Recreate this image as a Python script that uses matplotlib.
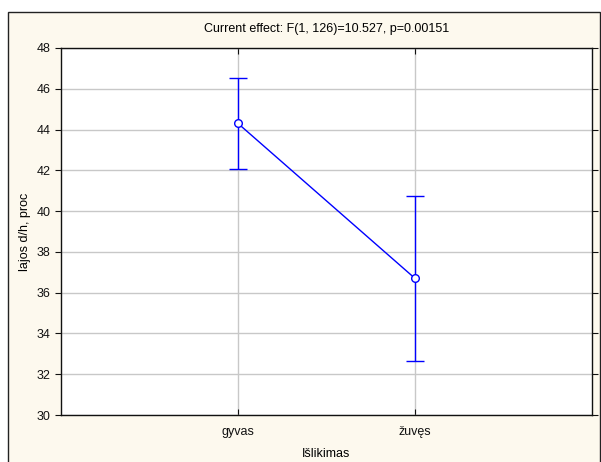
import matplotlib
matplotlib.use("Agg")
import matplotlib.pyplot as plt
from matplotlib.patches import Rectangle

plt.rcParams['font.family'] = ['Liberation Sans', 'DejaVu Sans']

categories = ["gyvas", "žuvęs"]
means = [44.3, 36.7]
upper = [46.55, 40.75]
lower = [42.05, 32.65]
yticks = [30, 32, 34, 36, 38, 40, 42, 44, 46, 48]

W, H = 601, 462
fig = plt.figure(figsize=(W / 100, H / 100), dpi=100)
fig.patch.set_facecolor("white")

# cream panel with dark border behind the axes
panel = Rectangle((7.5 / W, -0.01), (599.5 - 7.5) / W, (H - 11.5) / H + 0.01,
                  transform=fig.transFigure, facecolor="#FDF9EE",
                  edgecolor="#222222", linewidth=1.0, zorder=-10)
fig.patches.append(panel)

ax = fig.add_axes([61 / W, (H - 415) / H, (592 - 61) / W, (415 - 48) / H])
ax.set_zorder(5)
ax.set_facecolor("white")

x = list(range(1, len(categories) + 1))
yerr = [[m - lo for m, lo in zip(means, lower)], [up - m for m, up in zip(means, upper)]]
ax.errorbar(x, means, yerr=yerr, color="#0000FF", linewidth=1.0,
            elinewidth=1.0, capsize=6.8, capthick=1.0,
            marker="o", markersize=5.5, markerfacecolor="white",
            markeredgecolor="#0000FF", markeredgewidth=1.0, zorder=3)

ax.set_xlim(0, len(categories) + 1)
ax.set_ylim(30, 48)
ax.set_xticks(x)
ax.set_xticklabels(categories)
ax.set_yticks(yticks)
ax.grid(True, color="#C8C8C8", linewidth=1.0, zorder=0)
ax.set_axisbelow(True)

for s in ax.spines.values():
    s.set_color("#111111")
    s.set_linewidth(1.0)

ax.tick_params(axis="y", which="both", direction="out", length=4, labelsize=9,
               right=True, colors="#111111")
ax.tick_params(axis="x", which="both", direction="in", length=4, labelsize=9,
               top=True, pad=8, colors="#111111")

ax.set_xlabel("Išlikimas", fontsize=9, labelpad=7)
ax.set_ylabel("lajos d/h, proc", fontsize=9, labelpad=4)
fig.text(0.5 * (61 + 592) / W, (H - 29) / H,
         "Current effect: F(1, 126)=10.527, p=0.00151",
         ha="center", va="center", fontsize=9)

fig.savefig("out.png", dpi=100, facecolor=fig.get_facecolor())
